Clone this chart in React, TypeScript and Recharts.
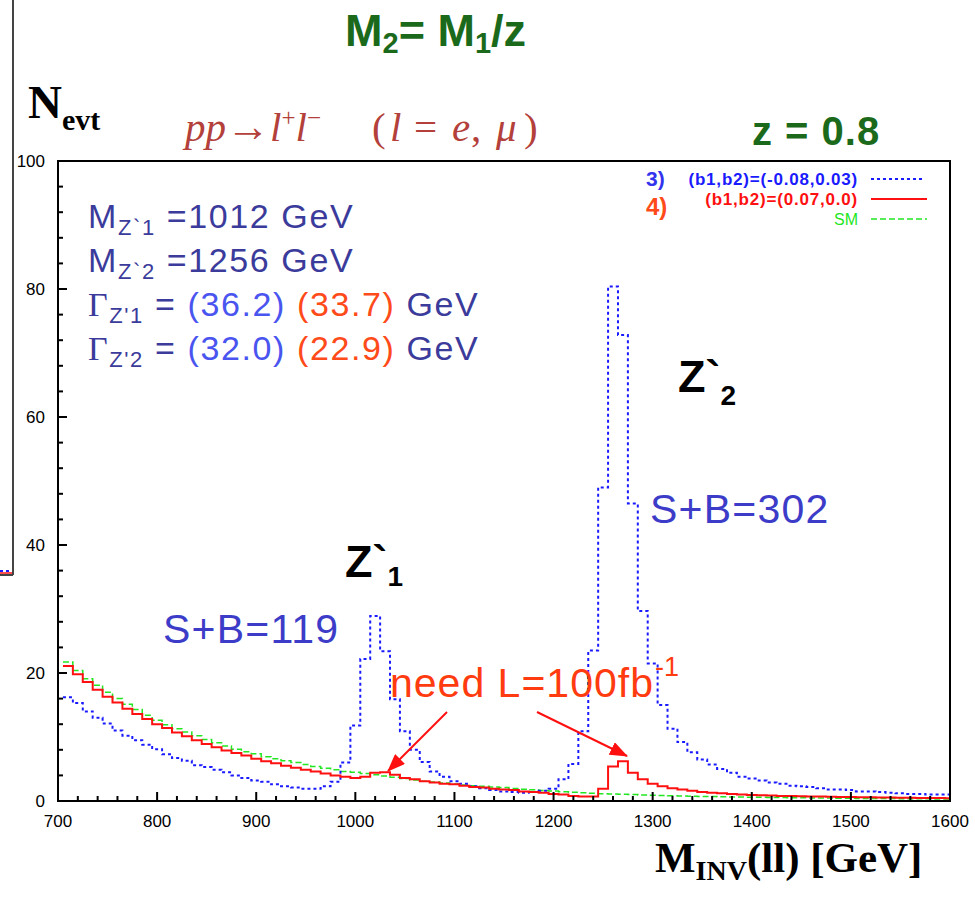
import { LineChart, Line, XAxis, YAxis, ReferenceArea } from "recharts";

// histogram bins: 10 GeV wide, first bin centred at 710 GeV
const BIN_WIDTH = 10;
const FIRST_BIN = 710;
const X_DOMAIN: [number, number] = [700, 1600];
const Y_DOMAIN: [number, number] = [0, 100];
const X_LABELS = [700, 800, 900, 1000, 1100, 1200, 1300, 1400, 1500, 1600];
const Y_LABELS = [0, 20, 40, 60, 80, 100];

// 3) (b1,b2)=(-0.08,0.03)
const CASE3 = [
  16.2, 15.3, 14.0, 13.0, 12.1, 11.0, 10.2, 9.5, 8.8, 8.1,
  7.3, 6.7, 6.3, 5.6, 5.3, 4.9, 4.5, 4.0, 3.6, 3.2,
  3.0, 2.6, 2.3, 2.1, 1.9, 1.9, 2.3, 3.0, 6.0, 11.8,
  22.2, 28.9, 23.4, 15.9, 10.9, 8.0, 6.1, 4.6, 3.8, 3.1,
  2.7, 2.3, 2.0, 1.7, 1.5, 1.4, 1.3, 1.4, 1.6, 1.9,
  3.4, 5.8, 10.9, 23.5, 49.0, 80.4, 72.8, 46.5, 29.7, 21.5,
  15.0, 11.3, 9.2, 7.6, 6.5, 5.7, 5.0, 4.4, 3.8, 3.5,
  3.2, 2.9, 2.7, 2.4, 2.3, 2.2, 2.0, 1.8, 1.8, 1.7,
  1.5, 1.5, 1.4, 1.3, 1.2, 1.1, 1.1, 1.0, 1.0, 1.0,
];

// 4) (b1,b2)=(0.07,0.0)
const CASE4 = [
  21.1, 19.8, 18.6, 17.4, 16.3, 15.4, 14.4, 13.6, 12.8, 12.0,
  11.4, 10.7, 10.1, 9.5, 8.9, 8.4, 7.9, 7.5, 7.1, 6.6,
  6.2, 5.9, 5.5, 5.2, 4.9, 4.6, 4.3, 4.0, 3.8, 3.6,
  3.8, 4.4, 4.5, 4.1, 3.6, 3.4, 3.1, 2.9, 2.7, 2.6,
  2.4, 2.2, 2.1, 1.9, 1.8, 1.7, 1.5, 1.4, 1.3, 1.1,
  1.0, 0.8, 0.7, 0.7, 1.9, 5.4, 6.2, 4.4, 3.4, 2.7,
  2.3, 2.0, 1.8, 1.6, 1.4, 1.3, 1.2, 1.1, 1.0, 0.95,
  0.9, 0.85, 0.8, 0.78, 0.75, 0.72, 0.7, 0.67, 0.64, 0.62,
  0.6, 0.57, 0.55, 0.53, 0.52, 0.5, 0.48, 0.46, 0.45, 0.44,
];

// SM
const SM = [
  21.7, 20.4, 19.1, 18.1, 17.0, 16.0, 15.1, 14.3, 13.4, 12.6,
  11.9, 11.3, 10.8, 10.2, 9.6, 9.1, 8.6, 8.1, 7.7, 7.4,
  6.9, 6.6, 6.3, 6.0, 5.7, 5.4, 5.1, 4.9, 4.6, 4.5,
  4.3, 4.1, 3.9, 3.7, 3.5, 3.3, 3.1, 2.95, 2.8, 2.65,
  2.5, 2.4, 2.3, 2.2, 2.1, 1.95, 1.85, 1.75, 1.65, 1.55,
  1.45, 1.38, 1.3, 1.22, 1.15, 1.1, 1.05, 1.0, 0.95, 0.9,
  0.86, 0.82, 0.78, 0.75, 0.72, 0.69, 0.66, 0.63, 0.61, 0.59,
  0.57, 0.55, 0.53, 0.51, 0.49, 0.48, 0.46, 0.45, 0.43, 0.42,
  0.41, 0.4, 0.39, 0.38, 0.37, 0.36, 0.35, 0.34, 0.33, 0.32,
];

const SANS = "'Liberation Sans', Arial, Helvetica, sans-serif";
const SERIF = "'Liberation Serif', 'Times New Roman', serif";
const GREEN = "#1b6a1b";
const ANNOT = "#3b3b9b";
const BLUE = "#1a1aff";
const LIGHT_BLUE = "#4a55ef";
const ORANGE = "#ff4a1a";
const RED = "#ff1010";
const SM_GREEN = "#22e622";
const BROWN = "#b3403a";

// points on the left edge of each bin, plus a closing point at the frame
const rows = CASE3.map((_, i) => ({
  m: FIRST_BIN - BIN_WIDTH / 2 + i * BIN_WIDTH,
  c3: CASE3[i],
  c4: CASE4[i],
  sm: SM[i],
}));
rows.push({
  m: X_DOMAIN[1],
  c3: CASE3[CASE3.length - 1],
  c4: CASE4[CASE4.length - 1],
  sm: SM[SM.length - 1],
});

const X_TICKS = Array.from({ length: 46 }, (_, i) => X_DOMAIN[0] + 20 * i);
const Y_TICKS = Array.from({ length: 26 }, (_, i) => 4 * i);

function XTick(props: any) {
  const { x, y, payload } = props;
  const major = X_LABELS.includes(payload.value);
  return (
    <g>
      <line x1={x} x2={x} y1={y} y2={y - (major ? 9 : 5)} stroke="#000" strokeWidth={2} />
      {major && (
        <text x={x} y={y + 26} textAnchor="middle" fontSize={17} fontFamily={SANS} fill="#000">
          {payload.value}
        </text>
      )}
    </g>
  );
}

function YTick(props: any) {
  const { x, y, payload } = props;
  const major = Y_LABELS.includes(payload.value);
  return (
    <g>
      <line x1={x} x2={x + (major ? 9 : 5)} y1={y} y2={y} stroke="#000" strokeWidth={2} />
      {major && (
        <text x={x - 13} y={y + 6} textAnchor="end" fontSize={17} fontFamily={SANS} fill="#000">
          {payload.value}
        </text>
      )}
    </g>
  );
}

function Overlay() {
  return (
    <svg
      width={975}
      height={897}
      style={{ position: "absolute", left: 0, top: 0, pointerEvents: "none" }}
    >
      <defs>
        <marker
          id="head"
          markerUnits="userSpaceOnUse"
          markerWidth={18}
          markerHeight={14}
          refX={17}
          refY={7}
          orient="auto"
        >
          <path d="M0,0 L18,7 L0,14 z" fill={RED} />
        </marker>
      </defs>

      {/* title */}
      <text x={345} y={46} fontSize={45} fontWeight="bold" fontFamily={SANS} fill={GREEN}>
        M<tspan fontSize={29} dy={7}>2</tspan>
        <tspan dy={-7}>= M</tspan>
        <tspan fontSize={29} dy={7}>1</tspan>
        <tspan dy={-7}>/z</tspan>
      </text>

      <text x={28} y={118} fontSize={47} fontWeight="bold" fontFamily={SERIF} fill="#000">
        N<tspan fontSize={30} dy={12}>evt</tspan>
      </text>

      {/* process */}
      <g fontFamily={SERIF} fontSize={41} fill={BROWN}>
        <text x={185} y={141} fontStyle="italic">pp</text>
        <text x={226} y={141} fontSize={44}>→</text>
        <text x={270} y={141} fontStyle="italic">
          l<tspan fontSize={25} dy={-15} fontStyle="normal">+</tspan>
          <tspan dy={15}>l</tspan>
          <tspan fontSize={25} dy={-15} fontStyle="normal">−</tspan>
        </text>
        <text x={372} y={141}>(</text>
        <text x={390} y={141} fontStyle="italic">l</text>
        <text x={414} y={141}>=</text>
        <text x={452} y={141} fontStyle="italic">e</text>
        <text x={471} y={141}>,</text>
        <text x={496} y={141} fontStyle="italic">μ</text>
        <text x={524} y={141}>)</text>
      </g>

      <text x={752} y={145} fontSize={40} fontWeight="bold" fontFamily={SANS} fill={GREEN} letterSpacing={1}>
        z = 0.8
      </text>

      {/* legend */}
      <g fontFamily={SANS}>
        <text x={646} y={186} fontSize={21} fontWeight="bold" fill="#3333ee">3)</text>
        <text x={858} y={185} fontSize={17} fontWeight="bold" fill={BLUE} textAnchor="end" letterSpacing={0.8}>
          (b1,b2)=(-0.08,0.03)
        </text>
        <text x={646} y={215} fontSize={24} fontWeight="bold" fill={ORANGE}>4)</text>
        <text x={858} y={205} fontSize={17} fontWeight="bold" fill={RED} textAnchor="end" letterSpacing={0.8}>
          (b1,b2)=(0.07,0.0)
        </text>
        <text x={858} y={225} fontSize={16} fill={SM_GREEN} textAnchor="end">SM</text>
        <line x1={871} x2={923} y1={179} y2={179} stroke={BLUE} strokeWidth={2} strokeDasharray="3 3" />
        <line x1={871} x2={927} y1={199} y2={199} stroke={RED} strokeWidth={2} />
        <line x1={871} x2={927} y1={219} y2={219} stroke={SM_GREEN} strokeWidth={1.5} strokeDasharray="6 3" />
      </g>

      {/* masses and widths */}
      <g fontFamily={SANS} fontSize={34} fill={ANNOT} letterSpacing={1.6}>
        <text x={88} y={228}>
          M<tspan fontSize={22} dy={7}>Z`1</tspan>
          <tspan dy={-7}> =1012 GeV</tspan>
        </text>
        <text x={88} y={272}>
          M<tspan fontSize={22} dy={7}>Z`2</tspan>
          <tspan dy={-7}> =1256 GeV</tspan>
        </text>
        <text x={88} y={316}>
          <tspan fontFamily={SERIF}>Γ</tspan>
          <tspan fontSize={22} dy={7}>Z'1</tspan>
          <tspan dy={-7}> = </tspan>
          <tspan fill={LIGHT_BLUE}>(36.2)</tspan>
          <tspan> </tspan>
          <tspan fill={ORANGE}>(33.7)</tspan>
          <tspan> GeV</tspan>
        </text>
        <text x={88} y={360}>
          <tspan fontFamily={SERIF}>Γ</tspan>
          <tspan fontSize={22} dy={7}>Z'2</tspan>
          <tspan dy={-7}> = </tspan>
          <tspan fill={LIGHT_BLUE}>(32.0)</tspan>
          <tspan> </tspan>
          <tspan fill={ORANGE}>(22.9)</tspan>
          <tspan> GeV</tspan>
        </text>
      </g>

      {/* peak labels */}
      <g fontFamily={SANS} fontWeight="bold" fill="#000">
        <text x={678} y={392} fontSize={45}>
          Z`<tspan fontSize={28} dy={13}>2</tspan>
        </text>
        <text x={345} y={577} fontSize={45}>
          Z`<tspan fontSize={28} dy={9}>1</tspan>
        </text>
      </g>
      <g fontFamily={SANS} fontSize={41} fill="#3c3cc8" letterSpacing={1.2}>
        <text x={650} y={523}>S+B=302</text>
        <text x={163} y={643}>S+B=119</text>
      </g>
      <g fontFamily={SANS} fill="#ff3b0f">
        <text x={390} y={697} fontSize={41} letterSpacing={1}>need L=100fb</text>
        <text x={655} y={676} fontSize={27}>-1</text>
      </g>

      <line x1={447} y1={712} x2={388} y2={771} stroke={RED} strokeWidth={2} markerEnd="url(#head)" />
      <line x1={537} y1={712} x2={627} y2={756} stroke={RED} strokeWidth={2} markerEnd="url(#head)" />

      {/* x title */}
      <text x={655} y={872} fontFamily={SERIF} fontWeight="bold" fontSize={43} fill="#000">
        M<tspan fontSize={28} dy={8}>INV</tspan>
        <tspan dy={-8}>(ll) [GeV]</tspan>
      </text>

      {/* edge of the neighbouring panel */}
      <line x1={13} x2={13} y1={0} y2={575} stroke="#444" strokeWidth={2} />
      <line x1={0} x2={13} y1={575} y2={575} stroke="#444" strokeWidth={2} />
      <line x1={0} x2={12} y1={571} y2={571} stroke={BLUE} strokeWidth={2} strokeDasharray="3 3" />
      <line x1={0} x2={12} y1={573} y2={573} stroke={RED} strokeWidth={1.5} />
    </svg>
  );
}

export default function App() {
  return (
    <div
      style={{
        position: "absolute",
        left: 0,
        top: 0,
        width: 975,
        height: 897,
        background: "#fff",
      }}
    >
      <LineChart
        width={975}
        height={897}
        data={rows}
        margin={{ top: 161, right: 25, left: 8, bottom: 66 }}
      >
        <XAxis
          dataKey="m"
          type="number"
          domain={X_DOMAIN}
          ticks={X_TICKS}
          interval={0}
          allowDataOverflow
          height={30}
          tickSize={0}
          tickMargin={0}
          tickLine={false}
          tick={XTick}
          axisLine={{ stroke: "#000", strokeWidth: 2 }}
        />
        <YAxis
          type="number"
          domain={Y_DOMAIN}
          ticks={Y_TICKS}
          interval={0}
          allowDataOverflow
          width={50}
          tickSize={0}
          tickMargin={0}
          tickLine={false}
          tick={YTick}
          axisLine={{ stroke: "#000", strokeWidth: 2 }}
        />
        <ReferenceArea
          x1={X_DOMAIN[0]}
          x2={X_DOMAIN[1]}
          y1={Y_DOMAIN[0]}
          y2={Y_DOMAIN[1]}
          fill="none"
          stroke="#000"
          strokeWidth={2}
          ifOverflow="visible"
        />
        <Line
          dataKey="sm"
          type="stepAfter"
          stroke={SM_GREEN}
          strokeWidth={1.5}
          strokeDasharray="6 3"
          dot={false}
          isAnimationActive={false}
        />
        <Line
          dataKey="c3"
          type="stepAfter"
          stroke={BLUE}
          strokeWidth={2}
          strokeDasharray="3 3"
          dot={false}
          isAnimationActive={false}
        />
        <Line
          dataKey="c4"
          type="stepAfter"
          stroke={RED}
          strokeWidth={2}
          dot={false}
          isAnimationActive={false}
        />
      </LineChart>
      <Overlay />
    </div>
  );
}
